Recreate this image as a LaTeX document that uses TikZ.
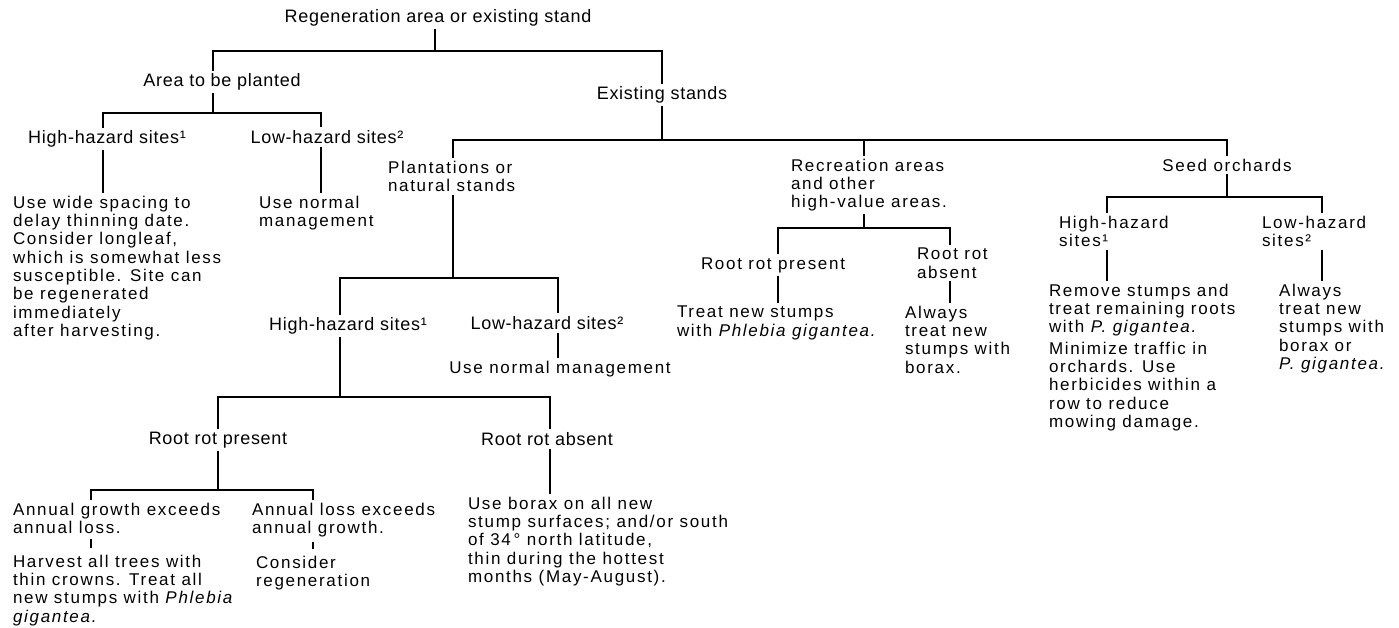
\documentclass[tikz,border=0pt]{standalone}
\usepackage{fontspec}
\setmainfont{Liberation Sans}
\newfontfamily\bodyfont[LetterSpace=10]{Liberation Sans}
\newfontfamily\headfont[LetterSpace=4]{Liberation Sans}
\tikzset{
	lbl/.style={font=\headfont\fontsize{18}{20}\selectfont, inner sep=1pt, outer sep=2pt},
	txt/.style={font=\bodyfont\fontsize{17}{18.3}\selectfont, align=left, anchor=north west, inner sep=1pt, outer sep=2pt},
	ctxt/.style={txt, anchor=center},
	shortlink/.style={shorten <=2pt, shorten >=4pt}
}

\begin{document}
\begin{tikzpicture}[x=1pt,y=-1pt,line width=1.6pt]
	\useasboundingbox (0,0) rectangle (1399,627);
	\node[lbl] (root) at (438,18) {Regeneration area or existing stand};
	\node[lbl] (area) at (222,82) {Area to be planted};
	\node[lbl] (exist) at (662,95) {Existing stands};
	\node[lbl] (hh1) at (107,139) {High-hazard sites¹};
	\node[lbl] (lh1) at (327,137) {Low-hazard sites²};
	\node[txt] (wide) at (10,193) {Use wide spacing to\\delay thinning date.\\Consider longleaf,\\which is somewhat less\\susceptible. Site can\\be regenerated\\immediately\\after harvesting.};
	\node[txt] (normal1) at (256,193) {Use normal\\management};
	\node[txt] (plant) at (385,158) {Plantations or\\natural stands};
	\node[txt] (recr) at (788,156) {Recreation areas\\and other\\high-value areas.};
	\node[ctxt] (seed) at (1227,165) {Seed orchards};
	\node[lbl] (hh2) at (348,326) {High-hazard sites¹};
	\node[lbl] (lh2) at (547,323) {Low-hazard sites²};
	\node[ctxt] (normal2) at (560,369) {Use normal management};
	\node[lbl] (rrp1) at (218,440) {Root rot present};
	\node[lbl] (rra1) at (547,439) {Root rot absent};
	\node[txt] (grow) at (10,500) {Annual growth exceeds\\annual loss.};
	\node[txt] (loss) at (249,500) {Annual loss exceeds\\annual growth.};
	\node[txt] (harvest) at (10,552) {Harvest all trees with\\thin crowns. Treat all\\new stumps with \textit{Phlebia}\\\textit{gigantea.}};
	\node[txt] (consider) at (253,553) {Consider\\regeneration};
	\node[txt] (borax1) at (465,494) {Use borax on all new\\stump surfaces; and/or south\\of 34\,° north latitude,\\thin during the hottest\\months (May-August).};
	\node[ctxt] (rrp2) at (773,265) {Root rot present};
	\node[txt] (rra2) at (914,245) {Root rot\\absent};
	\node[txt] (treat) at (674,303) {Treat new stumps\\with \textit{Phlebia gigantea.}};
	\node[txt] (always1) at (902,303) {Always\\treat new\\stumps with\\borax.};
	\node[txt] (hh3) at (1056,213) {High-hazard\\sites¹};
	\node[txt] (lh3) at (1259,213) {Low-hazard\\sites²};
	\node[txt] (remove) at (1046,281) {Remove stumps and\\treat remaining roots\\with \textit{P. gigantea.}\\[3pt]Minimize traffic in\\orchards. Use\\herbicides within a\\row to reduce\\mowing damage.};
	\node[txt] (always2) at (1276,281) {Always\\treat new\\stumps with\\borax or\\\textit{P. gigantea.}};
	\coordinate (j0) at (435,51);
	\coordinate (j1) at (213,113);
	\coordinate (j2) at (662,140);
	\coordinate (j3) at (453,278);
	\coordinate (j4) at (340,397);
	\coordinate (j5) at (218,490);
	\coordinate (j6) at (864,228);
	\coordinate (j7) at (1227,197);
	\draw ([xshift=-3pt]root.south) -- (j0);
	\draw ([xshift=-9pt]area.north) |- (j0) -| (exist.north);
	\draw ([xshift=-9pt]area.south) -- (j1);
	\draw ([xshift=-4pt]hh1.north) |- (j1) -| ([xshift=-6pt]lh1.north);
	\draw ([xshift=-4pt]hh1.south) -- ([xshift=93pt]wide.north west);
	\draw ([xshift=-6pt]lh1.south) -- ([xshift=65pt]normal1.north west);
	\draw (exist) -- (j2);
	\draw ([xshift=68pt]plant.north west) |- (j2) -| (seed.north);
	\draw ([xshift=76pt]recr.north west) |- (j2);
	\draw ([xshift=68pt]plant.south west) -- (j3);
	\draw ([xshift=-8pt]hh2.north) |- (j3) -| ([xshift=11pt]lh2.north);
	\draw ([xshift=11pt]lh2.south) -- ([xshift=-2pt]normal2.north);
	\draw ([xshift=-8pt]hh2.south) -- (j4);
	\draw (rrp1.north) |- (j4) -| ([xshift=3pt]rra1.north);
	\draw (rrp1) -- (j5);
	\draw ([xshift=81pt]grow.north west) |- (j5) -| ([xshift=64pt]loss.north west);
	\draw[shortlink] ([xshift=81pt]grow.south west) -- ([xshift=81pt]harvest.north west);
	\draw[shortlink] ([xshift=64pt]loss.south west) -- ([xshift=60pt]consider.north west);
	\draw ([xshift=3pt]rra1.south) -- ([xshift=85pt]borax1.north west);
	\draw ([xshift=76pt]recr.south west) -- (j6);
	\draw ([xshift=5pt]rrp2.north) |- (j6) -| ([xshift=36pt]rra2.north west);
	\draw ([xshift=5pt]rrp2.south) -- ([xshift=104pt]treat.north west);
	\draw ([xshift=36pt]rra2.south west) -- ([xshift=48pt]always1.north west);
	\draw (seed) -- (j7);
	\draw ([xshift=51pt]hh3.north west) |- (j7) -| ([xshift=63pt]lh3.north west);
	\draw ([xshift=51pt]hh3.south west) -- ([xshift=61pt]remove.north west);
	\draw ([xshift=63pt]lh3.south west) -- ([xshift=46pt]always2.north west);
\end{tikzpicture}
\end{document}
